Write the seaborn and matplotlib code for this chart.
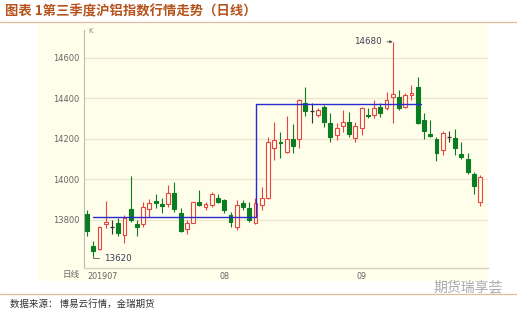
import numpy as np
import pandas as pd
import matplotlib
matplotlib.use("Agg")
import matplotlib.pyplot as plt
from matplotlib.patches import Rectangle
from matplotlib.lines import Line2D
import seaborn as sns

# ---------------- data ----------------
opens = [13830, 13670, 13655, 13778, 13767, 13787, 13726, 13853, 13780, 13779,
         13853, 13894, 13879, 13879, 13932, 13833, 13754, 13787, 13887, 13863,
         13874, 13908, 13899, 13825, 13765, 13882, 13861, 13787, 13874, 13910,
         14154, 14187, 14137, 14198, 14198, 14380, 14336, 14320, 14358, 14278,
         14220, 14262, 14285, 14204, 14254, 14320, 14316, 14360, 14352, 14409,
         14409, 14360, 14417, 14458, 14294, 14224, 14198, 14146, 14212, 14207,
         14126, 14101, 14026, 13888]
highs = [13850, 13695, 13772, 13895, 13800, 13808, 13825, 14015, 13800, 13890,
         13902, 13928, 13907, 13973, 13989, 13861, 13800, 13890, 13948, 13890,
         13940, 13928, 13903, 13841, 13900, 13899, 13890, 13910, 13961, 14212,
         14286, 14236, 14314, 14273, 14395, 14455, 14379, 14352, 14368, 14327,
         14278, 14343, 14332, 14285, 14360, 14352, 14393, 14376, 14433, 14680,
         14442, 14426, 14467, 14508, 14327, 14294, 14212, 14240, 14241, 14248,
         14187, 14129, 14038, 14022]
lows = [13720, 13620, 13650, 13760, 13730, 13722, 13686, 13790, 13722, 13764,
        13816, 13859, 13833, 13866, 13841, 13742, 13731, 13784, 13868, 13849,
        13866, 13882, 13833, 13767, 13752, 13849, 13792, 13779, 13849, 13905,
        14096, 14105, 14130, 14129, 14154, 14314, 14277, 14310, 14261, 14187,
        14195, 14236, 14211, 14187, 14220, 14302, 14305, 14310, 14343, 14278,
        14343, 14352, 14393, 14274, 14198, 14212, 14091, 14121, 14187, 14121,
        14101, 14025, 13927, 13871]
closes = [13745, 13648, 13765, 13790, 13767, 13734, 13808, 13800, 13767, 13863,
          13882, 13882, 13869, 13932, 13853, 13746, 13787, 13887, 13873, 13878,
          13927, 13891, 13849, 13792, 13876, 13862, 13800, 13882, 13910, 14187,
          14195, 14179, 14198, 14167, 14393, 14336, 14336, 14341, 14286, 14212,
          14254, 14286, 14223, 14262, 14352, 14312, 14352, 14327, 14393, 14421,
          14352, 14415, 14426, 14278, 14240, 14215, 14129, 14229, 14212, 14154,
          14110, 14036, 13970, 14014]

# range-box levels (start/end in trading-day index)
seg_bounds = [0.9, 27.1, 53.5]
seg_levels = [13815, 14372]

y_ticks = [13800, 14000, 14200, 14400, 14600]
x_tick_pos = [0, 22, 44]
x_tick_labels = ["201907", "08", "09"]

hi_label, hi_idx = "14680", 49
lo_label, lo_idx = "13620", 1

title = "图表 1第三季度沪铝指数行情走势（日线）"
source = "数据来源： 博易云行情，金瑞期货"
watermark = "期货瑞享荟"

# ---------------- style ----------------
sns.set_theme(style="white")
plt.rcParams["font.family"] = ["DejaVu Sans", "Noto Sans CJK SC"]

W, H = 517, 312
fig = plt.figure(figsize=(W / 100, H / 100), dpi=100, facecolor="white")

def fx(px):
    return px / W

def fy(py):
    return 1 - py / H

CREAM = "#fffeea"
RED = "#e5473f"
GREEN = "#0a7d22"
BLUE = "#2a2ad0"
GRID = "#ebe6cc"
TXT = "#666666"

# cream panel behind chart
fig.patches.append(Rectangle((fx(38), fy(281)), fx(488 - 38), fy(24) - fy(281),
                             transform=fig.transFigure, facecolor=CREAM,
                             edgecolor="none", zorder=-5))

ax = fig.add_axes([fx(84), fy(268), fx(488 - 84), fy(30) - fy(268)])
ax.set_zorder(5)
ax.set_facecolor(CREAM)

df = pd.DataFrame({"open": opens, "high": highs, "low": lows, "close": closes})
df["idx"] = np.arange(len(df))

# grid
for v in y_ticks:
    ax.axhline(v, color=GRID, lw=0.9, zorder=0)

# candles
bw = 0.62
for i, r in df.iterrows():
    o, h, l, c = r["open"], r["high"], r["low"], r["close"]
    if c > o:
        col = RED
    elif c < o:
        col = GREEN
    else:
        col = "#333333"
    ax.vlines(i, l, h, color=col, lw=0.8, zorder=2)
    if c > o:
        ax.add_patch(Rectangle((i - bw / 2, o), bw, c - o, facecolor=CREAM,
                               edgecolor=col, lw=0.8, zorder=3))
    elif c < o:
        ax.add_patch(Rectangle((i - bw / 2, c), bw, max(o - c, 6), facecolor=col,
                               edgecolor=col, lw=0.8, zorder=3))
    else:
        ax.hlines(o, i - bw / 2, i + bw / 2, color=col, lw=0.9, zorder=3)

# level box line
lx, ly = [], []
for k, lev in enumerate(seg_levels):
    lx += [seg_bounds[k], seg_bounds[k + 1]]
    ly += [lev, lev]
lvl = pd.DataFrame({"x": lx, "y": ly})
sns.lineplot(data=lvl, x="x", y="y", sort=False, color=BLUE, lw=1.0, ax=ax,
             estimator=None, zorder=4)

# annotations
ax.annotate(hi_label, xy=(hi_idx, highs[hi_idx]), xytext=(hi_idx - 1.7, highs[hi_idx]),
            ha="right", va="center", fontsize=6.3, color="#3a3f55",
            arrowprops=dict(arrowstyle="-|>", color="#555555", lw=0.6,
                            mutation_scale=4, shrinkA=1, shrinkB=0))
ax.annotate(lo_label, xy=(lo_idx, lows[lo_idx]), xytext=(lo_idx + 1.7, lows[lo_idx] - 8),
            ha="left", va="center", fontsize=6.3, color="#3a3f55",
            arrowprops=dict(arrowstyle="-", color="#555555", lw=0.6,
                            connectionstyle="angle,angleA=0,angleB=90,rad=0",
                            shrinkA=1, shrinkB=0))

ax.set_xlim(-0.48, 64.26)
ax.set_ylim(13563, 14738)
ax.set_yticks(y_ticks)
ax.set_yticklabels([str(v) for v in y_ticks], fontsize=6, color=TXT)
ax.set_xticks(x_tick_pos)
ax.set_xticklabels(x_tick_labels, fontsize=5.8, color=TXT)
ax.tick_params(axis="both", length=0, pad=3)
ax.set_xlabel("")
ax.set_ylabel("")
for s in ["top", "right"]:
    ax.spines[s].set_visible(False)
ax.spines["left"].set_color("#bbbbbb")
ax.spines["left"].set_linewidth(0.8)
ax.spines["bottom"].set_color("#d6d2bc")
ax.spines["bottom"].set_linewidth(1.0)

# left-align the first date label
ax.get_xticklabels()[0].set_horizontalalignment("left")

fig.text(fx(88), fy(31), "K", fontsize=5, color="#888888", va="center", ha="left",
         zorder=10)
fig.text(fx(80), fy(274), "日线", fontsize=6.2, color=TXT, va="center", ha="right",
         family=["Noto Sans CJK SC", "DejaVu Sans"])

# title + rules
fig.text(fx(5), fy(11), title, fontsize=9.6, fontweight="bold", color="#b4531c",
         va="center", ha="left", family=["Noto Sans CJK SC", "DejaVu Sans"])
fig.add_artist(Line2D([0, 1], [fy(21.5), fy(21.5)], transform=fig.transFigure,
                      color="#e2bc96", lw=0.9))
fig.add_artist(Line2D([0, 1], [fy(294), fy(294)], transform=fig.transFigure,
                      color="#e2bc96", lw=0.9))
fig.text(fx(10), fy(304), source, fontsize=6.8, color="#333333", va="center",
         ha="left", family=["Noto Sans CJK SC", "DejaVu Sans"])
fig.text(fx(503), fy(287), watermark, fontsize=10, color="#aaaaaa", va="center",
         ha="right", family=["Noto Sans CJK SC", "DejaVu Sans"])

fig.savefig("out.png", dpi=100, facecolor="white")
